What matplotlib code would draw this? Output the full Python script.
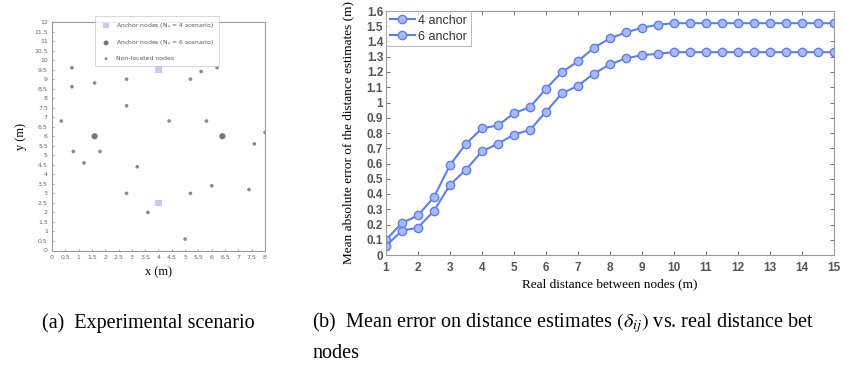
import numpy as np
import matplotlib
matplotlib.use("Agg")
import matplotlib.pyplot as plt

plt.rcParams["mathtext.fontset"] = "stix"

# left panel: node layout (m)
anchor4_x = [4.0, 4.0]
anchor4_y = [9.5, 2.5]
anchor6_x = [1.6, 6.4]
anchor6_y = [6.0, 6.0]
nodes_x = [0.75, 0.75, 1.6, 2.8, 5.2, 5.6, 6.2, 2.8, 0.35, 4.4, 5.8, 8.0,
           0.8, 1.2, 1.8, 3.2, 2.8, 5.2, 6.0, 7.4, 7.6, 3.6, 5.0]
nodes_y = [9.6, 8.6, 8.8, 9.0, 9.0, 9.4, 9.6, 7.6, 6.8, 6.8, 6.8, 6.2,
           5.2, 4.6, 5.2, 4.4, 3.0, 3.0, 3.4, 3.2, 5.6, 2.0, 0.6]

# right panel: mean error vs real distance
dist = [1, 1.5, 2, 2.5, 3, 3.5, 4, 4.5, 5, 5.5, 6, 6.5, 7, 7.5, 8, 8.5, 9,
        9.5, 10, 10.5, 11, 11.5, 12, 12.5, 13, 13.5, 14, 14.5, 15]
err_4anchor = [0.10, 0.21, 0.26, 0.38, 0.59, 0.73, 0.83, 0.85, 0.93, 0.97,
               1.09, 1.20, 1.27, 1.36, 1.42, 1.46, 1.49, 1.51, 1.52, 1.52,
               1.52, 1.52, 1.52, 1.52, 1.52, 1.52, 1.52, 1.52, 1.52]
err_6anchor = [0.06, 0.16, 0.18, 0.29, 0.46, 0.56, 0.68, 0.73, 0.79, 0.82,
               0.94, 1.06, 1.11, 1.19, 1.25, 1.29, 1.31, 1.32, 1.33, 1.33,
               1.33, 1.33, 1.33, 1.33, 1.33, 1.33, 1.33, 1.33, 1.33]

W, H = 845, 368
fig = plt.figure(figsize=(W / 100, H / 100), dpi=100)

serif = "Liberation Serif"
sans = "Liberation Sans"
tick_grey = "#666666"

# ---- (a) experimental scenario
ax1 = fig.add_axes([52 / W, 1 - 250.5 / H, 213 / W, 228.5 / H])
ax1.scatter(anchor4_x, anchor4_y, marker="s", s=22, color="#c8c8f4",
            edgecolor="none", label="Anchor nodes (N$_a$ = 4 scenario)", zorder=3)
ax1.scatter(anchor6_x, anchor6_y, marker="o", s=20, color="#777777",
            edgecolor="none", label="Anchor nodes (N$_a$ = 6 scenario)", zorder=3)
ax1.scatter(nodes_x, nodes_y, marker="o", s=7, color="#8a8a8a",
            edgecolor="none", label="Non-located nodes", zorder=3)
ax1.set_xlim(0, 8)
ax1.set_ylim(0, 12)
ax1.set_xticks(np.arange(0, 8.01, 0.5))
ax1.set_yticks(np.arange(0, 12.01, 0.5))
ax1.set_xticklabels([f"{v:g}" for v in np.arange(0, 8.01, 0.5)])
ax1.set_yticklabels([f"{v:g}" for v in np.arange(0, 12.01, 0.5)])
ax1.tick_params(labelsize=4.5, colors=tick_grey, length=1.5, width=0.4,
                direction="in", pad=3)
for s in ax1.spines.values():
    s.set_color("#9a9a9a")
    s.set_linewidth(0.8)
ax1.set_xlabel("x (m)", fontfamily=serif, fontsize=9, labelpad=5)
ax1.set_ylabel("y (m)", fontfamily=serif, fontsize=9, labelpad=5)
leg1 = ax1.legend(loc="upper left", bbox_to_anchor=(92 / W, 1 - 13 / H),
                  bbox_transform=fig.transFigure, fontsize=4.4,
                  frameon=True, fancybox=False, borderpad=0.8,
                  labelspacing=1.4, handletextpad=0.6, markerscale=0.8)
leg1.get_frame().set_edgecolor("#bbbbbb")
leg1.get_frame().set_linewidth(0.5)
for t in leg1.get_texts():
    t.set_color("#555555")

# ---- (b) mean error on distance estimates
ax2 = fig.add_axes([386 / W, 1 - 255 / H, 448 / W, 244 / H])
line_c = "#5f7fe3"
face_c = "#a9b9f3"
ax2.plot(dist, err_4anchor, "-o", color=line_c, lw=1.5, ms=6,
         mfc=face_c, mec=line_c, mew=1.0, label="4 anchor")
ax2.plot(dist, err_6anchor, "-o", color=line_c, lw=1.5, ms=6,
         mfc=face_c, mec=line_c, mew=1.0, label="6 anchor")
ax2.set_xlim(1, 15)
ax2.set_ylim(0, 1.6)
ax2.set_xticks(range(1, 16))
ax2.set_yticks(np.arange(0, 1.61, 0.1))
ax2.set_yticklabels([f"{v:g}" for v in np.round(np.arange(0, 1.61, 0.1), 1)])
ax2.tick_params(labelsize=8.5, colors="#555555", length=3, width=0.6,
                direction="in", top=True, right=True, pad=2)
ax2.tick_params(axis="x", pad=5)
for lab in ax2.get_xticklabels() + ax2.get_yticklabels():
    lab.set_fontfamily(sans)
    lab.set_fontweight("bold")
for s in ax2.spines.values():
    s.set_color("#999999")
    s.set_linewidth(0.8)
ax2.set_xlabel("Real distance between nodes (m)", fontfamily=serif,
               fontsize=9.5, labelpad=3)
ax2.set_ylabel("Mean absolute error of the distance estimates (m)",
               fontfamily=serif, fontsize=9.5, labelpad=9)
leg2 = ax2.legend(loc="upper left", frameon=True, fancybox=False,
                  borderpad=0.3, labelspacing=0.3, handlelength=2.0,
                  handletextpad=0.3, borderaxespad=0.0,
                  prop={"family": sans, "size": 9})
leg2.get_frame().set_edgecolor("#999999")
leg2.get_frame().set_linewidth(0.6)
for t in leg2.get_texts():
    t.set_color("#333333")

# ---- captions (the (b) line is cut at "bet" in the source page)
fig.text(42 / W, 1 - 323 / H, "(a)  Experimental scenario", fontfamily=serif,
         fontsize=14.5, va="center", ha="left")
fig.text(312 / W, 1 - 323 / H,
         r"(b)  Mean error on distance estimates $(\delta_{ij})$ vs. real distance bet",
         fontfamily=serif, fontsize=14.5, va="center", ha="left")
fig.text(312 / W, 1 - 354 / H, "nodes", fontfamily=serif, fontsize=14.5,
         va="center", ha="left")

fig.savefig("out.png", dpi=100)
